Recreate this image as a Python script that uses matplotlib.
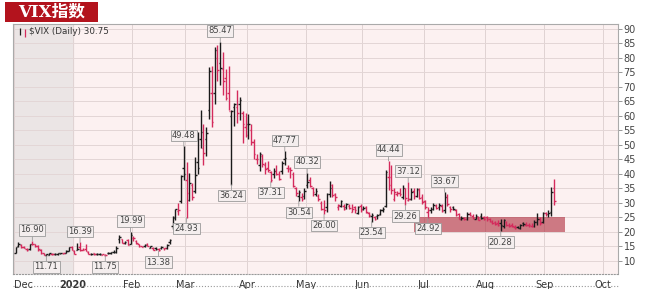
import pandas as pd
import numpy as np
import matplotlib.pyplot as plt
from matplotlib.patches import Rectangle
from matplotlib.lines import Line2D

# trading calendar (Dec 2019 .. early Oct 2020)
holidays = ["2019-12-25", "2020-01-01", "2020-01-20", "2020-02-17", "2020-04-10",
            "2020-05-25", "2020-07-03", "2020-09-07"]
days = pd.bdate_range("2019-12-02", "2020-10-09")
days = days[~days.isin(pd.to_datetime(holidays))]

# daily OHLC of $VIX, Dec 2 2019 .. Sep 4 2020
opens = [12.8, 15.2, 15.5, 14.8, 14.0, 14.0, 15.9, 15.7, 15.0, 13.8, 12.6, 12.1, 12.2, 12.5, 12.4, 12.5, 12.6, 12.6, 12.7, 13.5, 14.8,
         13.5, 13.9, 14.8, 13.9, 14.0, 13.0, 12.5, 12.7, 12.4, 12.4, 12.2, 12.2, 12.6, 12.6, 13.1, 13.0, 17.5, 17.4, 16.2, 17.1, 16.0,
         17.9, 17.0, 15.8, 15.0, 15.2, 15.7, 14.6, 14.6, 14.6, 14.2, 14.6, 14.4, 14.5, 16.6, 22.0, 24.8, 27.3, 30.5, 42.0,
         38.0, 31.0, 36.0, 34.0, 44.0, 52.0, 49.0, 52.0, 62.0, 68.0, 68.0, 80.0, 78.0, 76.0, 73.0, 68.0, 60.0, 63.0, 63.0, 64.0, 61.0, 56.0,
         57.0, 55.0, 51.0, 45.0, 43.0, 46.0, 43.0, 42.0, 40.5, 40.0, 41.0, 40.0, 41.0, 45.0, 42.0, 41.5, 40.0, 35.0, 32.5, 32.0, 32.5,
         36.0, 38.0, 35.0, 33.0, 32.5, 30.0, 28.0, 28.5, 33.0, 36.0, 33.0, 28.5, 29.0, 29.0, 28.5, 29.0, 27.0, 28.5, 26.5, 29.0,
         28.0, 28.5, 26.5, 25.5, 25.0, 25.5, 26.0, 27.5, 29.0, 39.0, 39.0, 31.5, 33.0, 33.5, 32.0, 35.0, 31.0, 31.5, 34.0, 32.5, 34.5, 32.0,
         30.5, 27.0, 27.5, 28.0, 29.0, 28.5, 29.0, 27.5, 32.0, 28.5, 28.5, 27.5, 26.0, 24.5, 24.8, 24.5, 26.0, 25.5, 24.5, 25.0, 25.5, 25.0,
         25.0, 24.5, 23.5, 23.5, 23.0, 23.0, 22.0, 23.5, 22.3, 22.5, 21.8, 21.8, 21.5, 23.0, 22.5, 22.5, 22.2, 22.2, 23.5, 24.5, 23.5,
         26.5, 26.0, 27.0, 35.0]
highs = [14.9, 16.5, 15.9, 15.3, 14.3, 15.9, 16.90, 16.0, 15.4, 14.1, 12.9, 12.5, 12.7, 12.7, 12.7, 12.8, 12.8, 12.9, 13.6, 14.9, 15.0,
         13.9, 16.2, 16.39, 14.5, 16.0, 13.3, 12.9, 12.8, 12.6, 12.8, 12.5, 12.4, 13.2, 13.1, 13.8, 15.0, 19.0, 17.7, 16.8, 17.4, 19.99,
         18.6, 17.2, 16.0, 15.3, 15.7, 16.1, 15.3, 14.9, 14.9, 14.5, 15.0, 14.5, 16.0, 17.6, 25.6, 28.0, 30.0, 39.6, 49.48,
         44.0, 40.3, 37.0, 45.8, 54.4, 62.1, 57.0, 56.0, 76.8, 77.0, 83.6, 84.5, 85.47, 82.0, 76.0, 77.0, 62.0, 64.4, 69.0, 66.5, 61.5, 61.0,
         60.5, 57.0, 52.0, 47.0, 47.5, 47.0, 44.0, 44.5, 41.0, 42.0, 43.0, 41.0, 44.5, 47.77, 43.0, 42.5, 40.5, 35.5, 34.5, 33.5, 35.0,
         40.32, 39.0, 35.5, 35.0, 33.0, 30.5, 31.0, 33.5, 37.5, 36.5, 33.5, 29.5, 31.0, 29.5, 30.0, 29.6, 29.5, 29.0, 29.0, 29.5,
         29.0, 28.8, 26.9, 26.5, 25.6, 26.0, 28.0, 28.5, 41.2, 44.44, 43.0, 35.0, 34.0, 35.0, 36.0, 35.2, 37.12, 35.0, 35.0, 35.0, 35.0, 33.0,
         31.0, 28.5, 28.5, 30.0, 29.5, 30.0, 29.5, 33.67, 33.0, 29.0, 29.0, 27.8, 26.5, 25.5, 25.0, 27.0, 27.0, 26.0, 26.0, 25.5, 26.5, 25.5,
         25.5, 24.8, 24.0, 23.8, 24.0, 24.5, 24.5, 23.8, 23.0, 23.0, 22.5, 22.2, 22.8, 23.5, 23.3, 23.0, 23.0, 24.0, 26.5, 25.0, 27.0,
         27.0, 27.5, 35.5, 38.3]
lows = [12.6, 14.9, 14.6, 14.3, 13.4, 13.9, 15.4, 14.8, 13.5, 12.5, 12.1, 11.71, 12.0, 12.2, 12.1, 12.2, 12.3, 12.4, 12.6, 13.3, 13.7,
        12.3, 13.7, 13.5, 13.6, 13.3, 12.3, 12.2, 12.2, 12.1, 12.2, 11.9, 11.75, 12.4, 12.3, 12.7, 12.8, 16.3, 16.1, 15.9, 15.4, 15.8,
        17.0, 16.0, 14.9, 14.7, 14.9, 15.0, 14.3, 13.7, 13.8, 13.38, 14.2, 13.9, 14.1, 15.9, 21.0, 24.1, 25.8, 30.0, 38.0,
        24.93, 30.5, 31.0, 33.5, 40.0, 49.0, 43.0, 46.0, 59.0, 56.0, 64.0, 72.0, 70.5, 67.0, 65.5, 62.0, 36.24, 56.3, 57.6, 58.6, 50.7, 52.8,
        52.0, 50.0, 45.0, 43.5, 41.0, 42.5, 40.0, 40.5, 37.31, 38.5, 39.5, 37.8, 40.0, 43.0, 40.5, 38.5, 35.5, 32.5, 30.54, 30.8, 31.5,
        35.0, 35.5, 32.5, 32.5, 30.8, 27.5, 26.00, 27.0, 32.0, 32.0, 30.5, 27.5, 28.5, 27.5, 27.9, 27.8, 26.8, 26.5, 26.3, 27.0,
        27.5, 26.5, 25.2, 23.54, 24.0, 24.4, 25.8, 26.9, 28.6, 34.5, 33.0, 30.5, 32.5, 32.5, 31.5, 29.26, 30.5, 31.0, 31.5, 32.0, 31.5, 29.5,
        28.0, 24.92, 26.5, 27.5, 27.8, 27.5, 27.0, 26.5, 29.0, 27.0, 27.5, 25.5, 24.3, 24.0, 24.0, 24.0, 25.5, 24.5, 24.3, 24.0, 24.3, 24.0,
        23.8, 23.5, 22.8, 22.4, 22.0, 20.28, 21.5, 22.0, 21.8, 21.8, 21.0, 21.2, 21.0, 22.0, 22.0, 21.8, 21.8, 21.8, 22.5, 22.5, 23.0,
        25.5, 25.0, 25.5, 29.3]
closes = [14.91, 15.96, 14.80, 14.52, 13.62, 15.86, 15.68, 14.99, 13.94, 12.63, 12.14, 12.29, 12.58, 12.50, 12.51, 12.61, 12.67, 12.65, 13.43, 14.82, 13.78,
          12.47, 14.02, 13.85, 13.79, 13.45, 12.54, 12.56, 12.32, 12.39, 12.42, 12.32, 12.10, 12.85, 12.91, 12.98, 14.56, 18.23, 16.28, 16.39, 15.49, 18.84,
          17.97, 16.05, 15.15, 14.96, 15.47, 15.04, 15.18, 13.74, 14.15, 13.68, 14.83, 14.38, 15.56, 17.08, 25.03, 27.85, 27.56, 39.16, 40.11,
          33.42, 36.82, 31.99, 39.62, 41.94, 54.46, 47.30, 53.90, 75.47, 57.83, 82.69, 75.91, 76.45, 72.00, 66.04, 61.59, 61.67, 63.95, 61.00, 65.54, 57.08, 53.54,
          57.06, 50.91, 46.80, 45.24, 46.70, 43.35, 41.67, 41.17, 37.76, 40.84, 40.11, 38.15, 43.83, 45.41, 41.98, 41.38, 35.93, 33.29, 33.57, 31.23, 34.15,
          37.19, 35.97, 33.61, 34.12, 31.44, 27.98, 27.57, 33.04, 35.28, 32.61, 31.89, 29.30, 30.53, 27.99, 29.53, 28.16, 28.01, 27.62, 28.59, 27.51,
          28.23, 26.84, 25.66, 25.81, 24.52, 25.81, 27.57, 27.87, 40.79, 36.09, 34.40, 33.67, 33.47, 32.94, 35.12, 31.77, 31.37, 33.84, 32.22, 34.73, 31.78, 30.43,
          28.62, 27.68, 27.94, 29.43, 28.08, 29.26, 27.29, 32.19, 29.52, 27.76, 28.00, 25.68, 24.46, 24.84, 24.32, 26.08, 25.84, 24.74, 25.44, 24.10, 24.76, 24.46,
          24.28, 23.76, 23.00, 22.65, 22.21, 22.43, 24.03, 22.28, 22.13, 22.05, 21.35, 21.51, 22.54, 22.72, 22.54, 22.37, 22.03, 23.27, 24.47, 22.96, 26.41,
          26.12, 26.57, 33.60, 30.75]

# peak / trough callouts
label_dates = ["2019-12-10", "2019-12-17", "2020-01-06", "2020-01-17", "2020-01-31", "2020-02-14",
               "2020-02-28", "2020-03-02", "2020-03-18", "2020-03-24", "2020-04-14", "2020-04-21",
               "2020-04-28", "2020-05-01", "2020-05-11", "2020-06-04", "2020-06-12", "2020-06-22",
               "2020-06-23", "2020-07-02", "2020-07-13", "2020-08-10"]
label_values = [16.90, 11.71, 16.39, 11.75, 19.99, 13.38, 49.48, 24.93, 85.47, 36.24, 37.31, 47.77,
                30.54, 40.32, 26.00, 23.54, 44.44, 29.26, 37.12, 24.92, 33.67, 20.28]
label_kinds = ["H", "L", "H", "L", "H", "L", "H", "L", "H", "L", "L", "H",
               "L", "H", "L", "L", "H", "L", "H", "L", "H", "L"]

zone_dates = ["2020-06-25", "2020-09-11"]
zone_range = [20, 25]
month_names = ["Dec", "2020", "Feb", "Mar", "Apr", "May", "Jun", "Jul", "Aug", "Sep", "Oct"]
yticks = list(range(10, 95, 5))

pos = {d.strftime("%Y-%m-%d"): i for i, d in enumerate(days)}
n = len(closes)
x = np.arange(n)
prev = np.r_[closes[0] - 1, closes[:-1]]
up = np.array(closes) >= prev
red = "#d42a5c"
cols = np.where(up, "#1a1a1a", red)

fig = plt.figure(figsize=(6.46, 2.89), dpi=100)
ax = fig.add_axes([13 / 646, 1 - 274 / 289, 605 / 646, 250 / 289])
ax.set_facecolor("#fcf1f1")

# month starts
first_days = [i for i in range(1, len(days)) if days[i].month != days[i - 1].month]
first_days = [0] + first_days
grid_x = [i - 0.5 for i in first_days]

ax.axvspan(-0.9, grid_x[1], color="#ebe5e5", zorder=0)
for g in grid_x:
    ax.axvline(g, color="#e0d3d3", lw=0.7, zorder=1)
for t in yticks:
    ax.axhline(t, color="#e3d6d6", lw=0.7, zorder=1)

ax.add_patch(Rectangle((pos[zone_dates[0]], zone_range[0]),
                       pos[zone_dates[1]] - pos[zone_dates[0]], zone_range[1] - zone_range[0],
                       facecolor="#b03040", alpha=0.62, edgecolor="none", zorder=2))

w = 0.55
ax.vlines(x, lows, highs, colors=cols, lw=1.0, zorder=3)
ax.hlines(opens, x - w, x, colors=cols, lw=1.0, zorder=3)
ax.hlines(closes, x, x + w, colors=cols, lw=1.0, zorder=3)

for d, v, k in zip(label_dates, label_values, label_kinds):
    off = 11 if k == "H" else -11
    ax.annotate(f"{v:.2f}", xy=(pos[d], v), xytext=(0, off), textcoords="offset pixels",
                ha="center", va="center", fontsize=6, color="#444444", zorder=6,
                bbox=dict(boxstyle="square,pad=0.15", fc="#f4eeee", ec="#9a9a9a", lw=0.6),
                arrowprops=dict(arrowstyle="-", color="#9a9a9a", lw=0.6, shrinkA=0, shrinkB=0))

ax.set_xlim(-0.9, 214.8)
ax.set_ylim(5.5, 91.6)
ax.yaxis.tick_right()
ax.set_yticks(yticks)
ax.set_yticklabels([str(t) for t in yticks], fontsize=7, color="#444444")
ax.tick_params(axis="y", length=3, width=0.6, color="#888888", pad=1)
ax.set_xticks(grid_x)
ax.set_xticklabels(month_names, fontsize=7, color="#333333")
ax.tick_params(axis="x", length=0, pad=4)
for lab in ax.get_xticklabels():
    if lab.get_text() == "2020":
        lab.set_fontweight("bold")
    if lab.get_text() == "Dec":
        lab.set_horizontalalignment("left")
for s in ["top", "left", "right"]:
    ax.spines[s].set_color("#aaaaaa")
    ax.spines[s].set_linewidth(0.8)
ax.spines["bottom"].set_color("#999999")
ax.spines["bottom"].set_linestyle(":")
fig.add_artist(Line2D([13 / 646, 618 / 646], [1 - 286 / 289] * 2, color="#999999", lw=0.8, ls=":"))

# legend line inside the chart
ax.vlines([0.012, 0.02], [0.955, 0.95], [0.985, 0.98], colors=["#1a1a1a", red], lw=0.9, transform=ax.transAxes)
ax.text(0.026, 0.968, "$VIX (Daily) 30.75", transform=ax.transAxes, fontsize=6.3,
        color="#333333", va="center", ha="left")

# title badge
fig.add_artist(Rectangle((5 / 646, 1 - 22 / 289), 93 / 646, 20 / 289, transform=fig.transFigure,
                         facecolor="#b3131d", edgecolor="none"))
fig.text(51.5 / 646, 1 - 12 / 289, "VIX指数", color="white", fontsize=12, fontweight="bold",
         ha="center", va="center", family=["DejaVu Serif", "Noto Sans CJK SC"])

fig.savefig("out.png", dpi=100)
